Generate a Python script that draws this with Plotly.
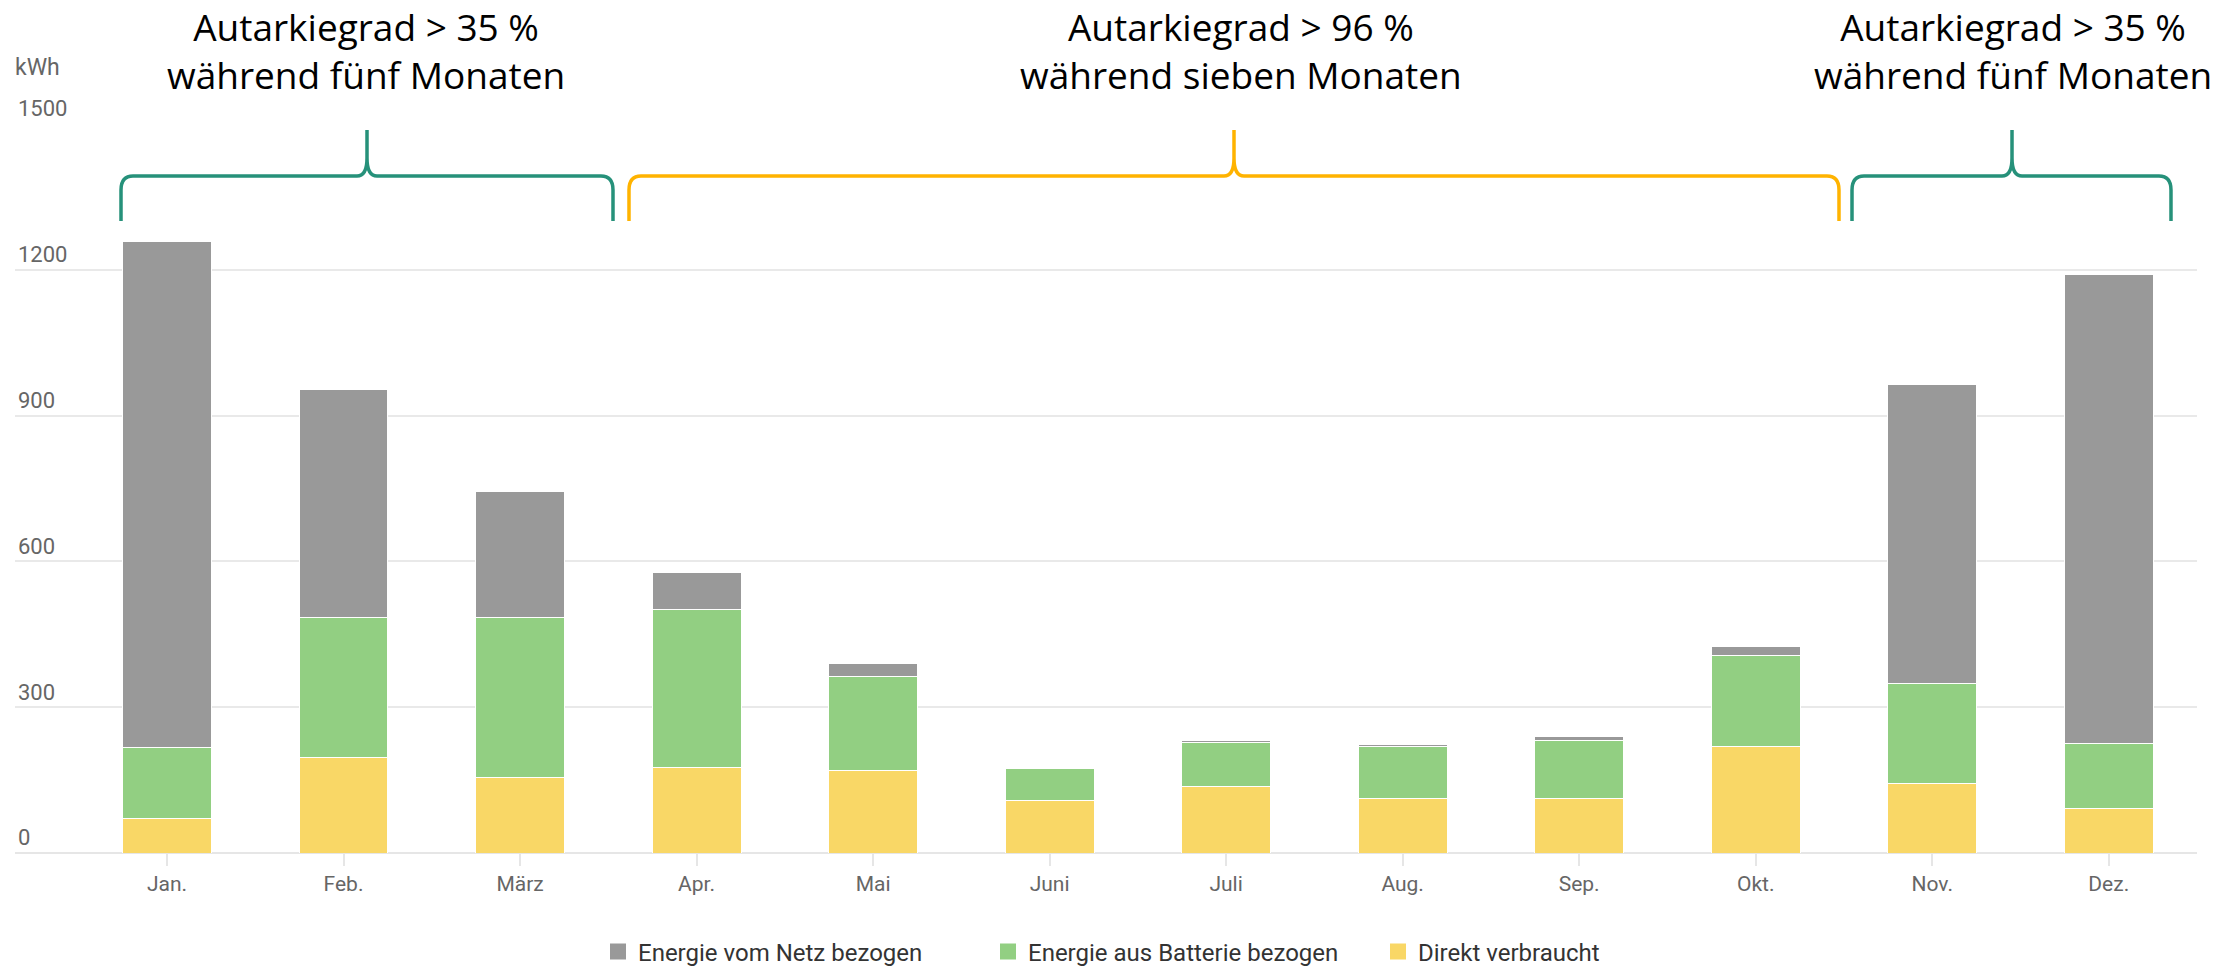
import plotly.graph_objects as go

months = ["Jan.", "Feb.", "März", "Apr.", "Mai", "Juni", "Juli", "Aug.", "Sep.", "Okt.", "Nov.", "Dez."]
direkt = [70, 197, 156, 176, 170, 108, 137, 112, 112, 219, 143, 91]
batterie = [147, 287, 328, 326, 194, 66, 90, 107, 120, 187, 205, 135]
netz = [1042, 470, 259, 76, 25, 2, 5, 5, 8, 19, 615, 964]
y_ticks = [0, 300, 600, 900, 1200, 1500]

series_names = ["Energie vom Netz bezogen", "Energie aus Batterie bezogen", "Direkt verbraucht"]
c_netz, c_batt, c_dir = "#999999", "#92CF82", "#F9D766"
c_teal, c_amber = "#26917A", "#FFB300"

W, H = 2237, 967
PL, PR, PT, PB = 15, 2197, 124, 853


def px(x):
    return (x - PL) / (PR - PL)


def py(y):
    return (PB - y) / (PB - PT)


fig = go.Figure()
for name, vals, col in [(series_names[2], direkt, c_dir),
                        (series_names[1], batterie, c_batt),
                        (series_names[0], netz, c_netz)]:
    fig.add_trace(go.Bar(x=months, y=vals, name=name, marker=dict(color=col, line=dict(color="white", width=1)),
                         showlegend=False))

for name, col in [(series_names[0], c_netz), (series_names[1], c_batt), (series_names[2], c_dir)]:
    fig.add_trace(go.Scatter(x=[None], y=[None], mode="markers", name=name,
                             marker=dict(symbol="square", size=16, color=col)))


def brace(xl, xm, xr, color):
    yb, yh, yt = 221, 176, 130
    pts = [
        ("M", [(xl, yb)]),
        ("L", [(xl, yh + 14)]),
        ("Q", [(xl, yh), (xl + 12, yh)]),
        ("L", [(xm - 10, yh)]),
        ("Q", [(xm, yh), (xm, yh - 18)]),
        ("L", [(xm, yt)]),
        ("L", [(xm, yh - 18)]),
        ("Q", [(xm, yh), (xm + 10, yh)]),
        ("L", [(xr - 12, yh)]),
        ("Q", [(xr, yh), (xr, yh + 14)]),
        ("L", [(xr, yb)]),
    ]
    d = ""
    for cmd, ps in pts:
        d += cmd + " ".join(f"{px(a):.5f},{py(b):.5f}" for a, b in ps) + " "
    fig.add_shape(type="path", path=d.strip(), xref="paper", yref="paper",
                  line=dict(color=color, width=3.5), layer="above")


brace(121, 367, 613, c_teal)
brace(629, 1234, 1839, c_amber)
brace(1852, 2012, 2171, c_teal)

titles = [(366, "Autarkiegrad > 35 %<br>während fünf Monaten"),
          (1241, "Autarkiegrad > 96 %<br>während sieben Monaten"),
          (2013, "Autarkiegrad > 35 %<br>während fünf Monaten")]
for cx, t in titles:
    fig.add_annotation(x=px(cx), y=py(50), xref="paper", yref="paper", text=t, showarrow=False,
                       xanchor="center", yanchor="middle",
                       font=dict(family="Open Sans", size=37, color="black"))

fig.add_annotation(x=px(13), y=py(67), xref="paper", yref="paper", text="kWh", showarrow=False,
                   xanchor="left", yanchor="middle", font=dict(family="Roboto", size=23, color="#666666"))

fig.update_layout(
    width=W, height=H,
    margin=dict(l=PL, r=W - PR, t=PT, b=H - PB, autoexpand=False),
    paper_bgcolor="white", plot_bgcolor="white",
    barmode="stack", bargap=0.496,
    font=dict(family="Roboto", color="#666666", size=21),
    legend=dict(orientation="h", x=px(598), xanchor="left", y=py(952), yanchor="middle",
                entrywidth=345, entrywidthmode="pixels",
                font=dict(family="Roboto", size=24, color="#333333"), traceorder="normal"),
)
fig.update_xaxes(type="category", categoryorder="array", categoryarray=months,
                 range=[-0.861, 11.5], showgrid=False, ticks="outside", ticklen=12, tickwidth=2,
                 tickcolor="#e6e6e6", showline=False, zeroline=False,
                 tickfont=dict(family="Roboto", size=21, color="#666666"))
fig.update_yaxes(range=[0, 1500], tickvals=y_ticks, ticktext=[str(v) for v in y_ticks],
                 showgrid=True, gridcolor="#e9e9e9", gridwidth=2, zeroline=True, zerolinecolor="#e6e6e6",
                 zerolinewidth=2, ticklabelposition="inside top", ticklabeloverflow="allow",
                 tickfont=dict(family="Roboto", size=22, color="#666666"), showline=False, ticks="")

fig.write_html("out.html", config={"displayModeBar": False},
               post_script="document.body.style.margin='0px';document.body.style.overflow='hidden';")
